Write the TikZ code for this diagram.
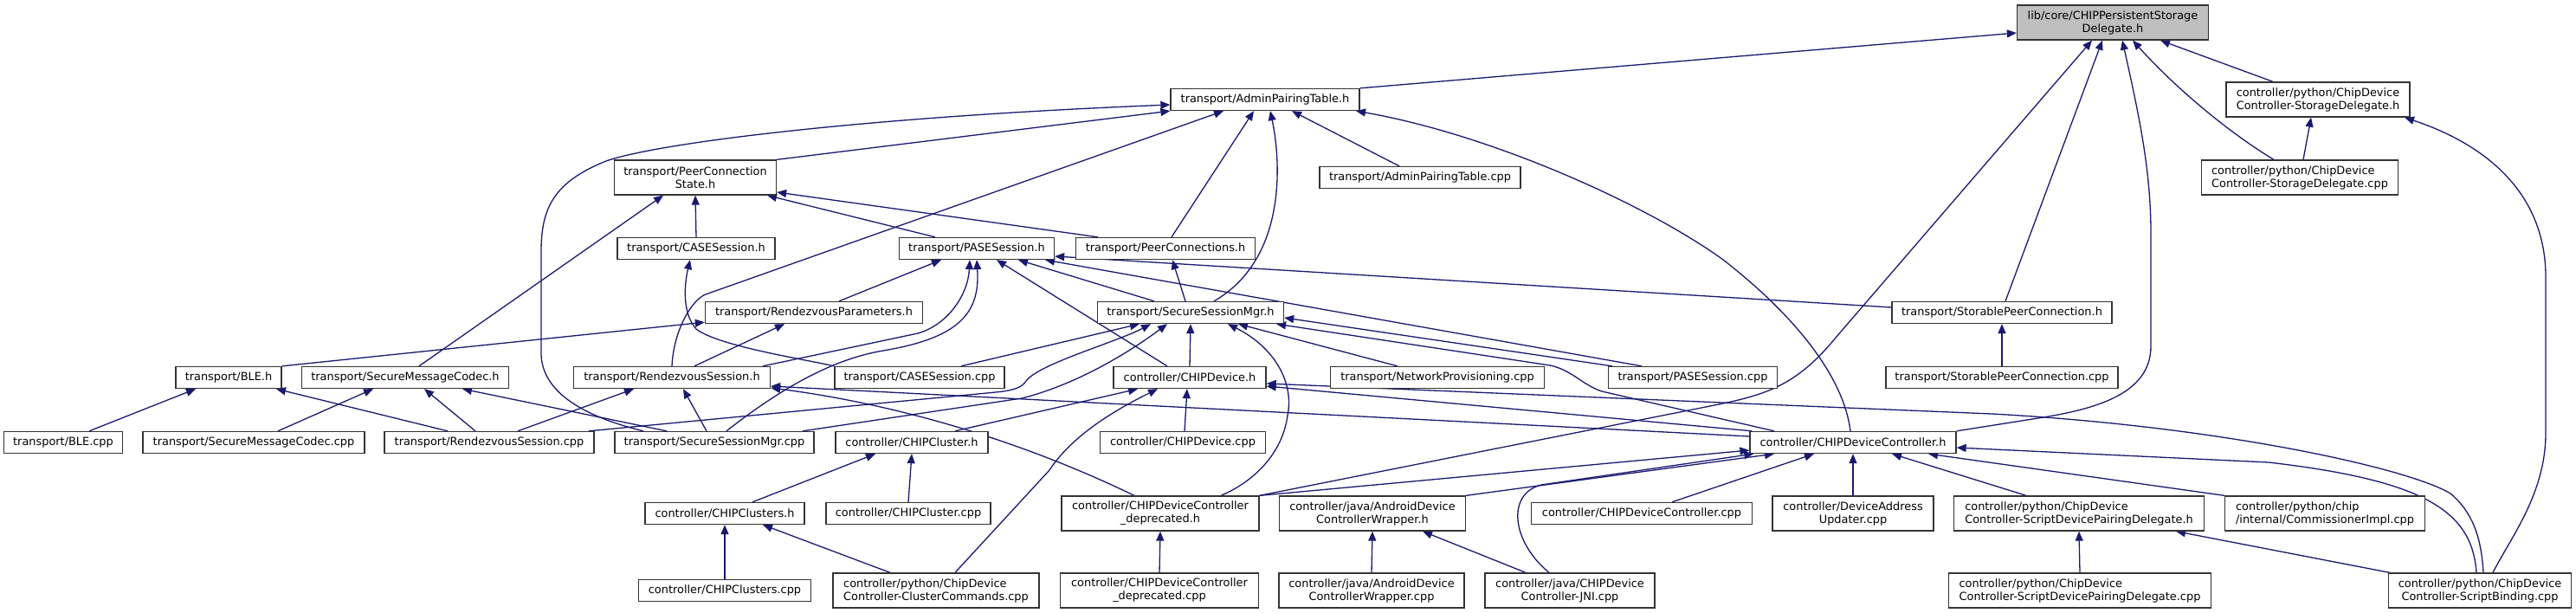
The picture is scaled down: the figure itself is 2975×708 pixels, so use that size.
\documentclass[tikz,border=0pt]{standalone}
\usepackage{fontspec}
\setmainfont{DejaVu Sans}
\usetikzlibrary{arrows.meta,calc}
\definecolor{edgecol}{HTML}{191970}
\definecolor{boxcol}{HTML}{333333}
\definecolor{rootfill}{HTML}{BFBFBF}
\pgfdeclarelayer{background}
\pgfsetlayers{background,main}
\tikzset{
 box/.style={draw=boxcol, line width=1.3pt, fill=white, inner sep=0pt, minimum height=25pt, font=\fontsize{12.9}{15}\selectfont, align=center},
 box2/.style={box, minimum height=40pt},
 boxl/.style={box2, align=left},
 dep/.style={draw=edgecol, line width=1.3pt, {Triangle[length=11pt,width=9pt]}-},
}
\begin{document}
\begin{tikzpicture}[x=1pt,y=-1pt]
\useasboundingbox (0,0) rectangle (2975,708);
% row 0
\node[box2, fill=rootfill, minimum width=221pt] (root) at (2440,26) {lib/core/CHIPPersistentStorage\\Delegate.h};
% row 1
\node[box, minimum width=218pt] (apt) at (1461,115) {transport/AdminPairingTable.h};
\node[boxl, minimum width=212pt] (sdh) at (2677,115) {controller/python/ChipDevice\\Controller-StorageDelegate.h};
% row 2
\node[box, minimum width=232pt] (aptcpp) at (1640,205) {transport/AdminPairingTable.cpp};
\node[boxl, minimum width=227pt] (sdcpp) at (2656,205) {controller/python/ChipDevice\\Controller-StorageDelegate.cpp};
\node[box2, minimum width=187pt] (pcs) at (803,205) {transport/PeerConnection\\State.h};
% row 3
\node[box, minimum width=182pt] (caseh) at (804,287) {transport/CASESession.h};
\node[box, minimum width=179pt] (paseh) at (1128,287) {transport/PASESession.h};
\node[box, minimum width=207pt] (pcsh) at (1346,287) {transport/PeerConnections.h};
% row 4
\node[box, minimum width=254pt] (storh) at (2312,361) {transport/StorablePeerConnection.h};
\node[box, minimum width=251pt] (rpar) at (940,361) {transport/RendezvousParameters.h};
\node[box, minimum width=215pt] (ssmh) at (1375,361) {transport/SecureSessionMgr.h};
% row 5
\node[box, minimum width=122pt] (bleh) at (264,436) {transport/BLE.h};
\node[box, minimum width=239pt] (smch) at (468,436) {transport/SecureMessageCodec.h};
\node[box, minimum width=227pt] (rsh) at (776,436) {transport/RendezvousSession.h};
\node[box, minimum width=196pt] (casecpp) at (1062,436) {transport/CASESession.cpp};
\node[box, minimum width=176pt] (devh) at (1374,436) {controller/CHIPDevice.h};
\node[box, minimum width=247pt] (netprov) at (1660,436) {transport/NetworkProvisioning.cpp};
\node[box, minimum width=195pt] (pasecpp) at (1955,436) {transport/PASESession.cpp};
\node[box, minimum width=268pt] (storcpp) at (2312,436) {transport/StorablePeerConnection.cpp};
% row 6
\node[box, minimum width=137pt] (blecpp) at (73,511) {transport/BLE.cpp};
\node[box, minimum width=256pt] (smccpp) at (293,511) {transport/SecureMessageCodec.cpp};
\node[box, minimum width=242pt] (rscpp) at (565,511) {transport/RendezvousSession.cpp};
\node[box, minimum width=230pt] (ssmcpp) at (825,511) {transport/SecureSessionMgr.cpp};
\node[box, minimum width=176pt] (clh) at (1053,511) {controller/CHIPCluster.h};
\node[box, minimum width=191pt] (devcpp) at (1366,511) {controller/CHIPDevice.cpp};
\node[box, minimum width=238pt] (cdch) at (2140,511) {controller/CHIPDeviceController.h};
% row 7
\node[box, minimum width=184pt] (clsh) at (837,593) {controller/CHIPClusters.h};
\node[box, minimum width=190pt] (clcpp) at (1049,593) {controller/CHIPCluster.cpp};
\node[box2, minimum width=228pt] (deph) at (1340,593) {controller/CHIPDeviceController\\\_deprecated.h};
\node[box2, minimum width=215pt] (awh) at (1585,593) {controller/java/AndroidDevice\\ControllerWrapper.h};
\node[box, minimum width=255pt] (cdccpp) at (1896,593) {controller/CHIPDeviceController.cpp};
\node[box2, minimum width=186pt] (dau) at (2140,593) {controller/DeviceAddress\\Updater.cpp};
\node[boxl, minimum width=289pt] (sdpdh) at (2401,593) {controller/python/ChipDevice\\Controller-ScriptDevicePairingDelegate.h};
\node[boxl, minimum width=231pt] (comm) at (2685,593) {controller/python/chip\\/internal/CommissionerImpl.cpp};
% row 8
\node[box, minimum width=199pt] (clscpp) at (837,682) {controller/CHIPClusters.cpp};
\node[boxl, minimum width=238pt] (clcmd) at (1081,682) {controller/python/ChipDevice\\Controller-ClusterCommands.cpp};
\node[box2, minimum width=229pt] (depcpp) at (1339,682) {controller/CHIPDeviceController\\\_deprecated.cpp};
\node[box2, minimum width=214pt] (awcpp) at (1584,682) {controller/java/AndroidDevice\\ControllerWrapper.cpp};
\node[box2, minimum width=196pt] (jni) at (1813,682) {controller/java/CHIPDevice\\Controller-JNI.cpp};
\node[boxl, minimum width=303pt] (sdpdcpp) at (2402,682) {controller/python/ChipDevice\\Controller-ScriptDevicePairingDelegate.cpp};
\node[box2, minimum width=211pt] (sbcpp) at (2864,682) {controller/python/ChipDevice\\Controller-ScriptBinding.cpp};

\begin{pgfonlayer}{background}
% into root
\draw[dep] ([yshift=-12pt]root.west) -- (apt.north east);
\draw[dep] ([xshift=55pt]root.south) -- ([xshift=-52pt]sdh.north);
\draw[dep] ([xshift=23pt]root.south) .. controls (2520,110) and (2585,160) .. ([xshift=-30pt]sdcpp.north);
\draw[dep] ([xshift=-12pt]root.south) -- ([xshift=4pt]storh.north);
\draw[dep] ([xshift=-24pt]root.south) -- (2120,390) .. controls (2075,445) and (2040,456) .. (1980,468) -- (deph.north east);
\draw[dep] ([xshift=11pt]root.south) .. controls (2472,140) and (2484,200) .. (2484,270) -- (2484,400) .. controls (2484,455) and (2420,472) .. (2360,482) -- (cdch.north east);
% storage delegate h
\draw[dep] ([xshift=-8pt]sdh.south) -- ([xshift=4pt]sdcpp.north);
\draw[dep] ([xshift=100pt]sdh.south) .. controls (2880,170) and (2940,230) .. (2940,320) -- (2940,500) .. controls (2940,570) and (2900,620) .. ([xshift=15pt]sbcpp.north);
% admin pairing table
\draw[dep] ([xshift=31pt]apt.south) -- ([xshift=-24pt]aptcpp.north);
\draw[dep] ([xshift=105pt]apt.south) .. controls (1720,155) and (1900,235) .. (1990,300) .. controls (2080,370) and (2130,440) .. ([xshift=-3pt]cdch.north);
\draw[dep] (apt.south west) -- (pcs.north east);
\draw[dep] ([yshift=-6pt]apt.west) .. controls (1000,135) and (760,165) .. (700,186) .. controls (640,210) and (625,240) .. (625,290) -- (625,410) .. controls (627,460) and (690,485) .. ([xshift=-82pt]ssmcpp.north);
\draw[dep] ([xshift=-48pt]apt.south) -- (815,340) .. controls (800,345.5) and (778,380) .. (rsh.north);
\draw[dep] ([xshift=-13pt]apt.south) -- ([xshift=7pt]pcsh.north);
\draw[dep] ([xshift=6pt]apt.south) .. controls (1480,190) and (1485,300) .. ([xshift=27pt]ssmh.north);
% peer connection state
\draw[dep] ([xshift=-37pt]pcs.south) -- ([xshift=16pt]smch.north);
\draw[dep] (pcs.south) -- (caseh.north);
\draw[dep] ([xshift=83pt]pcs.south) -- ([xshift=-48pt]paseh.north);
\draw[dep] ([yshift=-17pt]pcs.east) -- ([xshift=-78pt]pcsh.north);
% case session
\draw[dep] ([xshift=-7pt]caseh.south) .. controls (790,330) and (788,362) .. (804,380) .. controls (830,400) and (930,415) .. (casecpp.north west);
% pase session
\draw[dep] ([xshift=-41pt]paseh.south) -- ([xshift=29pt]rpar.north);
\draw[dep] ([xshift=-8pt]paseh.south) .. controls (1118,340) and (1095,375) .. (1060,385) -- ([xshift=105pt]rsh.north);
\draw[dep] (paseh.south) .. controls (1132,360) and (1110,390) .. (1020,405) .. controls (960,415) and (900,450) .. ([xshift=14pt]ssmcpp.north);
\draw[dep] ([xshift=23pt]paseh.south) -- ([xshift=-26pt]devh.north);
\draw[dep] ([xshift=48pt]paseh.south) -- ([xshift=-42pt]ssmh.north);
\draw[dep] ([xshift=79pt]paseh.south) -- ([xshift=-59pt]pasecpp.north);
\draw[dep] ([yshift=-9pt]paseh.east) -- ([yshift=6pt]storh.west);
% peer connections
\draw[dep] ([xshift=8pt]pcsh.south) -- ([xshift=-6pt]ssmh.north);
% storable
\draw[dep] (storh.south) -- (storcpp.north);
% rendezvous parameters
\draw[dep] ([yshift=2pt]rpar.south west) -- (bleh.north east);
\draw[dep] ([xshift=-34pt]rpar.south) -- ([xshift=26pt]rsh.north);
% secure session mgr h
\draw[dep] ([xshift=-59pt]ssmh.south) -- ([xshift=48pt]casecpp.north);
\draw[dep] ([xshift=-46pt]ssmh.south) .. controls (1290,395) and (1200,420) .. (1185,440) .. controls (1180,448) and (1170,451) .. (1150,453) -- ([xshift=115pt]rscpp.north);
\draw[dep] ([xshift=-27pt]ssmh.south) .. controls (1300,410) and (1240,445) .. (1180,460) -- ([xshift=102pt]ssmcpp.north);
\draw[dep] (ssmh.south) -- (devh.north);
\draw[dep] ([xshift=43pt]ssmh.south) .. controls (1470,400) and (1495,440) .. (1487,480) .. controls (1480,530) and (1440,560) .. ([xshift=70pt]deph.north);
\draw[dep] ([xshift=55pt]ssmh.south) -- ([xshift=-46pt]netprov.north);
\draw[dep] ([yshift=-6pt]ssmh.east) -- ([xshift=-93pt]pasecpp.north);
\draw[dep] ([xshift=99pt]ssmh.south) -- (1790,422) .. controls (1815,427) and (1828,445) .. (1850,452) -- ([xshift=-91pt]cdch.north);
% chip device h
\draw[dep] ([xshift=-60pt]devh.south) -- ([xshift=50pt]clh.north);
\draw[dep] ([xshift=-37pt]devh.south) .. controls (1295,470) and (1240,500) .. (1212,543) -- ([xshift=22pt]clcmd.north);
\draw[dep] ([xshift=-3pt]devh.south) -- ([xshift=2pt]devcpp.north);
\draw[dep] ([yshift=-10pt]devh.east) -- ([xshift=3pt]cdch.north west);
\draw[dep] ([yshift=-7pt]devh.east) -- (2300,478) .. controls (2560,492) and (2780,540) .. (2830,570) .. controls (2860,595) and (2866,630) .. ([xshift=4pt]sbcpp.north);
% rendezvous session h
\draw[dep] ([xshift=-44pt]rsh.south) -- ([xshift=33pt]rscpp.north);
\draw[dep] ([xshift=13pt]rsh.south) -- ([xshift=-9pt]ssmcpp.north);
\draw[dep] ([yshift=-10pt]rsh.east) -- ([yshift=7pt]cdch.west);
\draw[dep] ([yshift=-12pt]rsh.east) .. controls (1000,462) and (1150,495) .. ([xshift=-30pt]deph.north);
% secure message codec h
\draw[dep] ([xshift=-37pt]smch.south) -- ([xshift=28pt]smccpp.north);
\draw[dep] ([xshift=22pt]smch.south) -- ([xshift=-16pt]rscpp.north);
\draw[dep] ([xshift=66pt]smch.south) -- ([xshift=-55pt]ssmcpp.north);
% ble h
\draw[dep] ([xshift=-38pt]bleh.south) -- ([xshift=30pt]blecpp.north);
\draw[dep] ([xshift=55pt]bleh.south) -- ([xshift=-48pt]rscpp.north);
% clusters
\draw[dep] ([xshift=-42pt]clh.south) -- ([xshift=32pt]clsh.north);
\draw[dep] (clh.south) -- (clcpp.north);
\draw[dep] (clsh.south) -- (clscpp.north);
\draw[dep] ([xshift=44pt]clsh.south) -- ([xshift=-53pt]clcmd.north);
% deprecated, android
\draw[dep] (deph.south) -- (depcpp.north);
\draw[dep] (awh.south) -- (awcpp.north);
\draw[dep] ([xshift=58pt]awh.south) -- ([xshift=-51pt]jni.north);
% device controller h
\draw[dep] ([yshift=-9pt]cdch.west) -- (deph.north east);
\draw[dep] ([xshift=-91pt]cdch.south) -- (awh.north east);
\draw[dep] ([xshift=5pt]cdch.south west) -- (1780,560) .. controls (1740,570) and (1745,625) .. ([xshift=-24pt]jni.north);
\draw[dep] ([xshift=-45pt]cdch.south) -- ([xshift=35pt]cdccpp.north);
\draw[dep] (cdch.south) -- (dau.north);
\draw[dep] ([xshift=45pt]cdch.south) -- ([xshift=-61pt]sdpdh.north);
\draw[dep] ([xshift=87pt]cdch.south) -- (comm.north west);
\draw[dep] ([yshift=-6pt]cdch.east) -- (2620,534) .. controls (2800,555) and (2855,590) .. ([xshift=-4pt]sbcpp.north);
% script device pairing delegate h
\draw[dep] (sdpdh.south) -- (sdpdcpp.north);
\draw[dep] ([xshift=112pt]sdpdh.south) -- ([xshift=2pt]sbcpp.north west);
\end{pgfonlayer}
\end{tikzpicture}
\end{document}
